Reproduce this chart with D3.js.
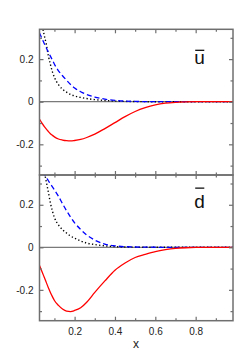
<!DOCTYPE html>
<html>
<head>
<meta charset="utf-8">
<script src="https://cdn.jsdelivr.net/npm/d3@7"></script>
<style>
  html, body { margin: 0; padding: 0; background: #fff; }
  svg text { font-family: "Liberation Sans", Arial, sans-serif; }
</style>
</head>
<body>
<div id="chart"></div>
<script>
// shared x grid for all curves
const xGrid = [0.026, 0.04, 0.05, 0.06, 0.07, 0.08, 0.09, 0.1, 0.12, 0.14, 0.16, 0.18, 0.2,
  0.23, 0.26, 0.3, 0.35, 0.4, 0.45, 0.5, 0.55, 0.6, 0.65, 0.7, 0.75, 0.8, 0.9, 0.985];

// u-bar panel
const uSolid = [-0.082, -0.103, -0.117, -0.129, -0.14, -0.15, -0.158, -0.165, -0.175, -0.18, -0.183, -0.184, -0.182,
  -0.177, -0.168, -0.152, -0.126, -0.098, -0.07, -0.046, -0.028, -0.015, -0.007, -0.003, -0.001, 0, 0, 0];
const uDash = [0.323, 0.293, 0.272, 0.252, 0.233, 0.214, 0.196, 0.176, 0.145, 0.122, 0.101, 0.081, 0.064,
  0.047, 0.034, 0.022, 0.012, 0.006, 0.003, 0.0015, 0.0007, 0.0003, 0, 0, 0, 0, 0, 0];
const uDot = [0.44, 0.355, 0.31, 0.268, 0.215, 0.175, 0.14, 0.114, 0.08, 0.059, 0.045, 0.034, 0.027,
  0.02, 0.015, 0.01, 0.006, 0.003, 0.0015, 0.0007, 0.0003, 0, 0, 0, 0, 0, 0, 0];

// d-bar panel
const dSolid = [-0.085, -0.118, -0.142, -0.166, -0.19, -0.212, -0.232, -0.25, -0.273, -0.29, -0.3, -0.302, -0.297,
  -0.284, -0.258, -0.212, -0.158, -0.108, -0.074, -0.048, -0.033, -0.02, -0.011, -0.005, -0.002, -0.0005, 0, 0];
const dDash = [0.39, 0.36, 0.343, 0.328, 0.313, 0.298, 0.284, 0.27, 0.24, 0.205, 0.172, 0.142, 0.115,
  0.084, 0.058, 0.034, 0.015, 0.007, 0.003, 0.0015, 0.0007, 0.0003, 0, 0, 0, 0, 0, 0];
const dDot = [0.5, 0.41, 0.355, 0.307, 0.259, 0.209, 0.17, 0.14, 0.105, 0.083, 0.067, 0.053, 0.043,
  0.03, 0.02, 0.013, 0.007, 0.003, 0.0015, 0.0007, 0.0003, 0, 0, 0, 0, 0, 0, 0];

const xMajor = [0.2, 0.4, 0.6, 0.8];
const xMinor = [0.1, 0.3, 0.5, 0.7, 0.9];
const yMajor = [-0.2, 0, 0.2];
const yMinor = [-0.3, -0.1, 0.1, 0.3];

const width = 250;
const height = 350;
const left = 39.5;
const right = 233;

const svg = d3.select('#chart').append('svg')
  .attr('width', width)
  .attr('height', height);

const x = d3.scaleLinear().domain([0.026, 0.985]).range([left, right]);

const panels = [
  { id: 'u', top: 29.3, bottom: 175, domain: [-0.344, 0.34], solid: uSolid, dash: uDash, dot: uDot,
    letter: 'u', barRise: 0.72, showX: false },
  { id: 'd', top: 175, bottom: 320.7, domain: [-0.345, 0.34], solid: dSolid, dash: dDash, dot: dDot,
    letter: 'd', barRise: 1.03, showX: true }
];

const frameColor = '#6f6f6f';

panels.forEach((p) => {
  const y = d3.scaleLinear().domain(p.domain).range([p.bottom, p.top]);
  const g = svg.append('g');

  g.append('clipPath').attr('id', 'clip-' + p.id)
    .append('rect')
    .attr('x', left).attr('y', p.top)
    .attr('width', right - left).attr('height', p.bottom - p.top);

  // zero line
  g.append('line')
    .attr('x1', left).attr('x2', right)
    .attr('y1', y(0)).attr('y2', y(0))
    .attr('stroke', '#7a7a7a').attr('stroke-width', 1.3);

  const line = d3.line()
    .x((d) => x(d[0]))
    .y((d) => y(d[1]))
    .curve(d3.curveMonotoneX);

  const curves = g.append('g').attr('clip-path', 'url(#clip-' + p.id + ')');

  curves.append('path')
    .attr('d', line(xGrid.map((v, i) => [v, p.dot[i]])))
    .attr('fill', 'none').attr('stroke', '#000')
    .attr('stroke-width', 1.4).attr('stroke-dasharray', '1.3,2.3');

  curves.append('path')
    .attr('d', line(xGrid.map((v, i) => [v, p.dash[i]])))
    .attr('fill', 'none').attr('stroke', '#0000ff')
    .attr('stroke-width', 1.3).attr('stroke-dasharray', '5,3');

  curves.append('path')
    .attr('d', line(xGrid.map((v, i) => [v, p.solid[i]])))
    .attr('fill', 'none').attr('stroke', '#ff0000')
    .attr('stroke-width', 1.3);

  // ticks on all four sides, pointing inward
  const addAxis = (axis, tx, ty) => {
    const a = g.append('g').attr('transform', `translate(${tx},${ty})`).call(axis);
    a.select('.domain').remove();
    a.selectAll('line').attr('stroke', frameColor).attr('stroke-width', 1.2);
    a.selectAll('text').attr('fill', '#222').style('font-size', '10px')
      .style('font-family', '"Liberation Sans", Arial, sans-serif');
    return a;
  };

  addAxis(d3.axisBottom(x).tickValues(xMajor).tickSize(-4).tickPadding(7)
    .tickFormat(p.showX ? (d) => String(d) : () => ''), 0, p.bottom);
  addAxis(d3.axisBottom(x).tickValues(xMinor).tickSize(-2.5).tickFormat(() => ''), 0, p.bottom);
  addAxis(d3.axisTop(x).tickValues(xMajor).tickSize(-4).tickFormat(() => ''), 0, p.top);
  addAxis(d3.axisTop(x).tickValues(xMinor).tickSize(-2.5).tickFormat(() => ''), 0, p.top);

  addAxis(d3.axisLeft(y).tickValues(yMajor).tickSize(-4).tickPadding(6)
    .tickFormat((d) => String(d)), left, 0);
  addAxis(d3.axisLeft(y).tickValues(yMinor).tickSize(-2.5).tickFormat(() => ''), left, 0);
  addAxis(d3.axisRight(y).tickValues(yMajor).tickSize(-4).tickFormat(() => ''), right, 0);
  addAxis(d3.axisRight(y).tickValues(yMinor).tickSize(-2.5).tickFormat(() => ''), right, 0);

  // frame
  g.append('rect')
    .attr('x', left).attr('y', p.top)
    .attr('width', right - left).attr('height', p.bottom - p.top)
    .attr('fill', 'none').attr('stroke', frameColor).attr('stroke-width', 1.5);

  // antiquark label with overbar
  const fs = 19;
  const baseline = p.top + (p.id === 'u' ? 34.7 : 32.7);
  const label = g.append('text')
    .attr('x', 199.5).attr('y', baseline)
    .attr('text-anchor', 'middle')
    .style('font-size', fs + 'px')
    .attr('fill', '#111')
    .text(p.letter);
  const bb = label.node().getBBox();
  g.append('line')
    .attr('x1', bb.x + 1).attr('x2', bb.x + bb.width - 0.5)
    .attr('y1', baseline - p.barRise * fs).attr('y2', baseline - p.barRise * fs)
    .attr('stroke', '#111').attr('stroke-width', 1.3);
});

svg.append('text')
  .attr('x', 136).attr('y', 348)
  .attr('text-anchor', 'middle')
  .style('font-size', '12px')
  .attr('fill', '#222')
  .text('x');
</script>
</body>
</html>
